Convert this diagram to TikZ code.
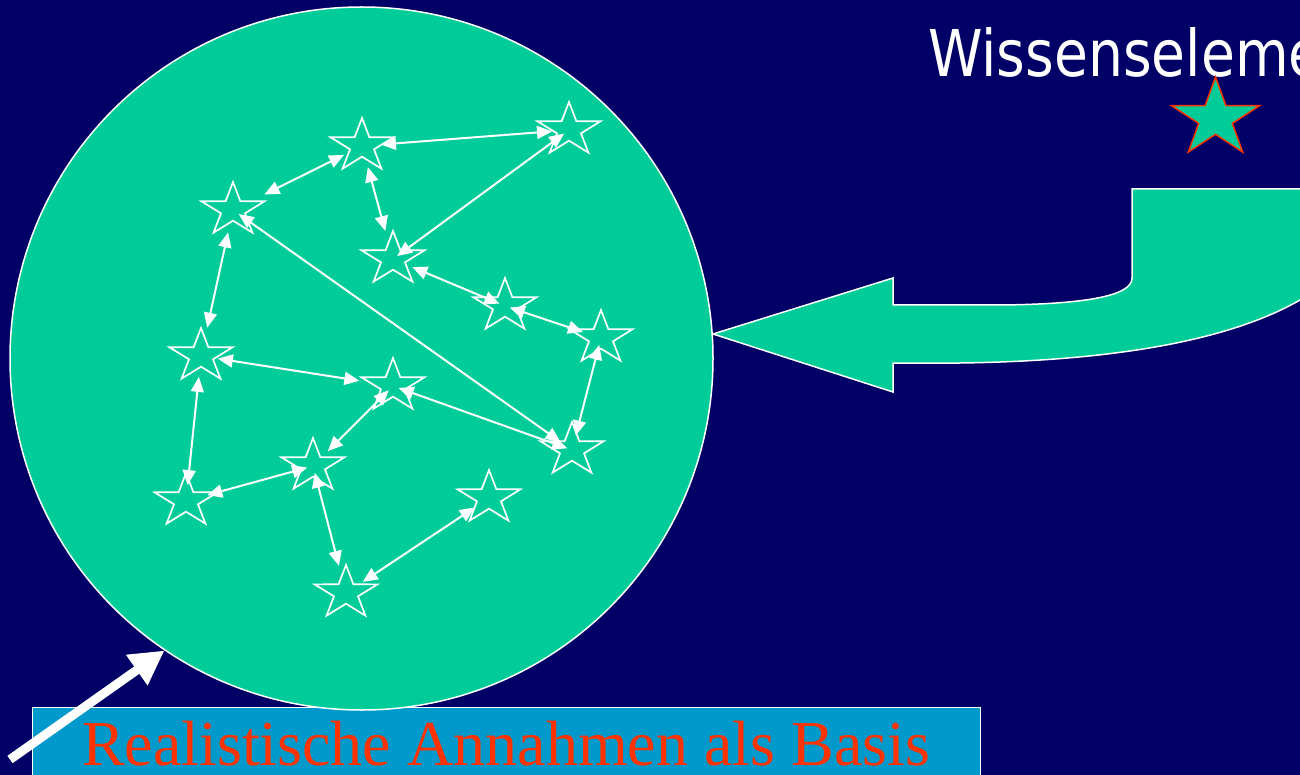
\documentclass[tikz,border=0pt]{standalone}
\usepackage{fontspec}
\setmainfont{Liberation Serif}
\newfontfamily\tahomalike[FakeStretch=0.95]{DejaVu Sans Condensed}
\usetikzlibrary{arrows.meta}
\definecolor{bgnavy}{HTML}{000066}
\definecolor{mint}{HTML}{00CC99}
\definecolor{boxblue}{HTML}{0099CC}
\definecolor{redorange}{HTML}{FF3300}
\tikzset{
  starline/.style={draw=white, line width=1.7pt, line join=miter},
  wstar/.pic={\path[starline, yscale=-1, xscale=1.18]
     (90:28) -- (126:10.7) -- (162:28) -- (198:10.7) -- (234:28) -- (270:10.7)
     -- (306:28) -- (342:10.7) -- (18:28) -- (54:10.7) -- cycle;},
  rstar/.pic={\path[draw=redorange, fill=mint, line width=1.5pt, yscale=-1, xscale=1.115]
     (90:41.5) -- (126:15.85) -- (162:41.5) -- (198:15.85) -- (234:41.5) -- (270:15.85)
     -- (306:41.5) -- (342:15.85) -- (18:41.5) -- (54:15.85) -- cycle;},
  conn/.style={draw=white, line width=2pt,
     {Triangle[length=15pt,width=13pt]}-{Triangle[length=15pt,width=13pt]}},
  bigcircle/.style={circle, fill=mint, draw=white, line width=1.5pt, minimum size=703pt, inner sep=0pt},
  uarrow/.style={fill=mint, draw=white, line width=1.5pt, line join=miter},
  basisbox/.style={rectangle, fill=boxblue, draw=white, line width=1pt, inner sep=0pt,
     minimum width=948pt, minimum height=100pt, anchor=north west},
  basistext/.style={text=redorange, font=\fontsize{64}{76}\selectfont, inner sep=0pt, anchor=base},
  titletext/.style={text=white, font=\tahomalike\fontsize{64.5}{77}\selectfont, inner sep=0pt, anchor=base west},
  thickarrow/.style={draw=white, line width=9pt, -{Triangle[length=34pt,width=35pt]}},
}
\begin{document}
\begin{tikzpicture}[x=1pt,y=-1pt]
\useasboundingbox (0,0) rectangle (1300,775);
\clip (0,0) rectangle (1300,775);
\fill[bgnavy] (0,0) rectangle (1300,775);

% bottom box
\node[basisbox] (basis) at (32,707) {};

% big circle
\node[bigcircle] (bigc) at (361.5,358.5) {};

% star positions
\coordinate (s1) at (362,146);
\coordinate (s2) at (569,130);
\coordinate (s3) at (233,210);
\coordinate (s4) at (393,259);
\coordinate (s5) at (505,306);
\coordinate (s6) at (601,338);
\coordinate (s7) at (201,356);
\coordinate (s8) at (393,386);
\coordinate (s9) at (572,450);
\coordinate (s10) at (313,466);
\coordinate (s11) at (186,501);
\coordinate (s12) at (489,498);
\coordinate (s13) at (346,593);
\foreach \n in {s1,s2,s3,s4,s5,s6,s7,s8,s9,s10,s11,s12,s13}
  \pic at (\n) {wstar};

% connectors
\draw[conn, shorten <=19pt, shorten >=17pt] (s1) -- (s2);
\draw[conn, shorten <=20pt, shorten >=35pt] (s1) -- (s3);
\draw[conn, shorten <=22pt, shorten >=29pt] (s1) -- (s4);
\draw[conn, shorten <=6pt, shorten >=5pt] (s2) -- (s4);
\draw[conn, shorten <=21pt, shorten >=6pt] (s4) -- (s5);
\draw[conn, shorten <=5pt, shorten >=19pt] (s5) -- (s6);
\draw[conn, shorten <=23pt, shorten >=29pt] (s3) -- (s7);
\draw[conn, shorten <=7pt, shorten >=14pt] (s3) -- (s9);
\draw[conn, shorten <=17pt, shorten >=34pt] (s7) -- (s8);
\draw[conn, shorten <=7pt, shorten >=15pt] (s6) -- (s9);
\draw[conn, shorten <=6pt, shorten >=5pt] (s8) -- (s9);
\draw[conn, shorten <=6pt, shorten >=21pt] (s8) -- (s10);
\draw[conn, shorten <=21pt, shorten >=16pt] (s7) -- (s11);
\draw[conn, shorten <=6pt, shorten >=22pt] (s10) -- (s11);
\draw[conn, shorten <=7pt, shorten >=28pt] (s10) -- (s13);
\draw[conn, shorten <=17pt, shorten >=20pt] (s12) -- (s13);

% U-turn arrow
\path[uarrow] (713,334) -- (893,278) -- (893,305) -- (1000,305)
  .. controls (1100,304) and (1132,293) .. (1132,278)
  -- (1132,189) -- (1360,189) -- (1360,240) -- (1340,270)
  .. controls (1290,320) and (1180,360) .. (960,363)
  -- (893,363) -- (893,392) -- cycle;

% title and key star
\node[titletext] (wtitle) at (928,77) {Wissenselemente};
\coordinate (keystar) at (1215.5,118.5);
\pic at (keystar) {rstar};

% box label
\node[basistext] (basislabel) at (506,765) {Realistische Annahmen als Basis};

% thick white arrow
\coordinate (ptail) at (10,759.5);
\draw[thickarrow] (ptail) -- (bigc.236.2);
\end{tikzpicture}
\end{document}
